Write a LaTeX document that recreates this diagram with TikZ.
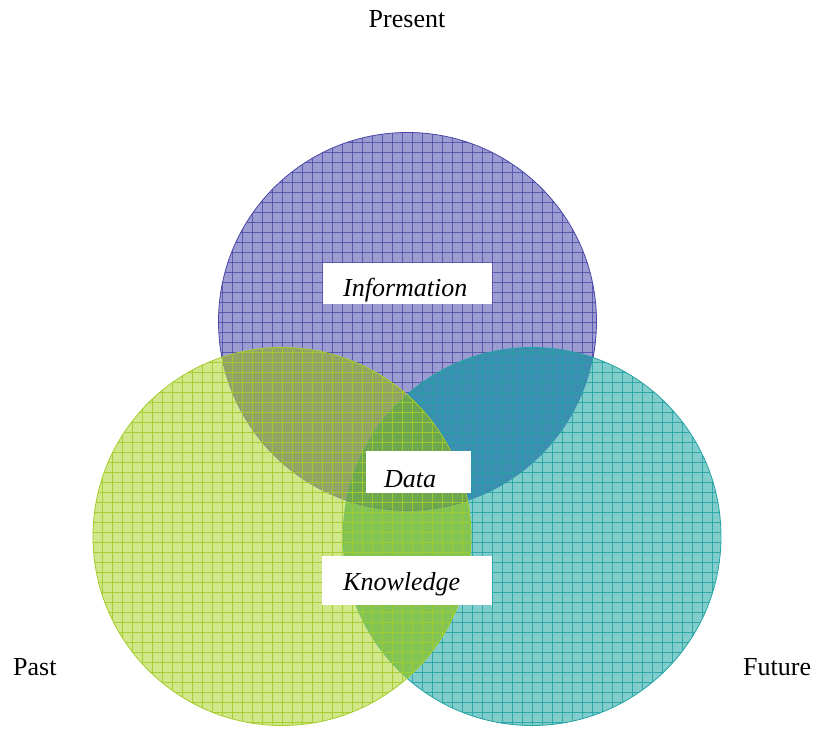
\documentclass[tikz,border=0pt]{standalone}
\usepackage{fontspec}
\setmainfont{Liberation Serif}
\definecolor{bfill}{HTML}{9C9CD2}
\definecolor{bline}{HTML}{4646A6}
\definecolor{gfill}{HTML}{D2E68A}
\definecolor{gline}{HTML}{A2CD2A}
\definecolor{tfill}{HTML}{80CDCB}
\definecolor{tline}{HTML}{22A3A3}
\definecolor{bgfill}{HTML}{94A466}
\definecolor{btfill}{HTML}{3D8FB2}
\definecolor{gtfill}{HTML}{84C455}
\definecolor{bgtfill}{HTML}{6FA650}
\begin{document}
\begin{tikzpicture}[x=1pt,y=-1pt,
  box/.style={fill=white,draw=none,inner sep=0pt},
  word/.style={font=\fontsize{26}{30}\selectfont\itshape,inner sep=0pt,anchor=base west},
  side/.style={font=\fontsize{26}{30}\selectfont,inner sep=0pt},
  gridline/.style={line width=0.7pt}]
\useasboundingbox (0,0) rectangle (819,729);
\def\R{189}
\def\bc{(407.5,321.5)}
\def\gc{(282,536.5)}
\def\tc{(532,536.5)}
% --- blue circle (bottom layer)
\fill[bfill] \bc circle (\R);
\begin{scope}\clip \bc circle (\R);
  \foreach \x in {212,222,...,602} \draw[gridline,bline,opacity=0.75] (\x,125) -- (\x,515);
  \foreach \y in {132,142,...,512} \draw[gridline,bline,opacity=0.75] (210,\y) -- (605,\y);
\end{scope}
\draw[bline,line width=0.8pt] \bc circle (\R);
% --- teal circle (middle layer)
\fill[tfill] \tc circle (\R);
\begin{scope}\clip \bc circle (\R); \fill[btfill] \tc circle (\R);\end{scope}
\begin{scope}\clip \tc circle (\R);
  \foreach \x in {342,352,...,722} \draw[gridline,tline,opacity=0.85] (\x,340) -- (\x,730);
  \foreach \y in {342,352,...,722} \draw[gridline,tline,opacity=0.85] (335,\y) -- (725,\y);
\end{scope}
\draw[tline,line width=0.8pt] \tc circle (\R);
% --- green circle (top layer)
\fill[gfill] \gc circle (\R);
\begin{scope}\clip \bc circle (\R); \fill[bgfill] \gc circle (\R);\end{scope}
\begin{scope}\clip \tc circle (\R); \fill[gtfill] \gc circle (\R);\end{scope}
\begin{scope}\clip \bc circle (\R); \clip \tc circle (\R); \fill[bgtfill] \gc circle (\R);\end{scope}
\begin{scope}\clip \gc circle (\R);
  \draw[bline,line width=0.6pt,opacity=0.35] \bc circle (\R);
  \draw[tline,line width=0.6pt,opacity=0.35] \tc circle (\R);
  \foreach \x in {92,102,...,472} \draw[gridline,gline,opacity=0.9] (\x,340) -- (\x,730);
  \foreach \y in {342,352,...,722} \draw[gridline,gline,opacity=0.9] (85,\y) -- (475,\y);
\end{scope}
\draw[gline,line width=0.8pt] \gc circle (\R);
% boxes
\node[box,minimum width=169pt,minimum height=41pt] (infobox) at (407.5,283.5) {};
\node[box,minimum width=105pt,minimum height=42pt] (databox) at (418.5,472) {};
\node[box,minimum width=170pt,minimum height=49pt] (knowbox) at (407,580.5) {};
\node[word] (info) at (343,296) {Information};
\node[word] (data) at (384,487) {Data};
\node[word] (know) at (343,590) {Knowledge};
% side labels
\node[side,anchor=base] (present) at (407,27) {Present};
\node[side,anchor=base west] (past) at (13,675) {Past};
\node[side,anchor=base west] (future) at (743,675) {Future};
\end{tikzpicture}
\end{document}
